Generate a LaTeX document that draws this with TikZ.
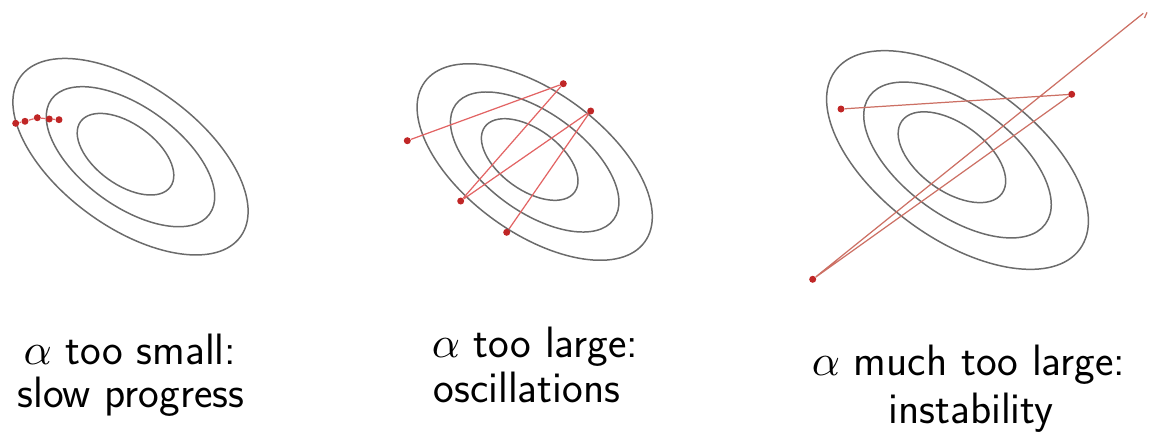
\documentclass[tikz,border=0pt]{standalone}
\usepackage{fontspec}
\DeclareFontShape{OML}{cmm}{m}{it}{<->cmmi10}{}
\usetikzlibrary{calc}
\definecolor{dotred}{RGB}{192,38,38}
\definecolor{stepred}{RGB}{226,100,100}
\definecolor{jumpred}{RGB}{204,112,100}
\tikzset{
	contour/.style={line width=0.85pt, color=black!58},
	dot/.style={circle, fill=dotred, inner sep=0pt, minimum size=0.14cm},
	stepline/.style={line width=0.7pt, color=stepred},
	jumpline/.style={line width=0.7pt, color=jumpred},
	caption/.style={anchor=base, font=\fontsize{25}{30}\sffamily},
}
\def\contours(#1)[#2]{%
	\begin{scope}[shift={(#1)}, scale=#2]
		\draw[contour, rotate=-36] (0, 0) ellipse [x radius=136, y radius=70.6];
		\draw[contour, rotate=-36] (0, 0) ellipse [x radius=97.7, y radius=49.5];
		\draw[contour, shift={(-5, -2.5)}, rotate=-36] (0, 0) ellipse [x radius=55.5, y radius=30.3];
	\end{scope}}

\begin{document}
\begin{tikzpicture}[x=0.02cm, y=-0.02cm]
		%%%%% START %%%%%
		\useasboundingbox (0, 0) rectangle (1164, 444);
		
		\contours(130.5, 156.7)[1];
		\contours(534.7, 162)[1];
		\contours(957.5, 160)[1.113];
		
		% too small
		\node[dot] (s1) at (15.7, 123.3) {};
		\node[dot] (s2) at (25, 121.3) {};
		\node[dot] (s3) at (37.3, 117.7) {};
		\node[dot] (s4) at (49.3, 119) {};
		\node[dot] (s5) at (59, 119.7) {};
		\draw[stepline] (s1) -- (s2) -- (s3) -- (s4) -- (s5);
		
		% too large
		\node[dot] (o1) at (407.3, 140.7) {};
		\node[dot] (o2) at (563.3, 83.7) {};
		\node[dot] (o3) at (460.7, 201) {};
		\node[dot] (o4) at (590.7, 111) {};
		\node[dot] (o5) at (506.7, 232.3) {};
		\draw[stepline] (o1) -- (o2) -- (o3) -- (o4) -- (o5);
		
		% much too large
		\node[dot] (m1) at (841, 109) {};
		\node[dot] (m2) at (1071.7, 94.3) {};
		\node[dot] (m3) at (812.7, 279.3) {};
		\coordinate (m4) at (1143.3, 13.3);
		\draw[jumpline] (m1) -- (m2) -- (m3) -- (m4);
		\draw[jumpline] (1144.5, 18) -- (1147, 12.3);
		
		\node[caption] (small1) at (130, 364) {$\alpha$ too small:};
		\node[caption] (small2) at (131, 407) {slow progress};
		\node[caption] (large1) at (535, 357.7) {$\alpha$ too large:};
		\node[caption] (large2) at (527, 402.3) {oscillations};
		\node[caption] (much1) at (968.5, 375) {$\alpha$ much too large:};
		\node[caption] (much2) at (971, 423.3) {instability};
		
		%%%%% END %%%%%
	\end{tikzpicture}
\end{document}
